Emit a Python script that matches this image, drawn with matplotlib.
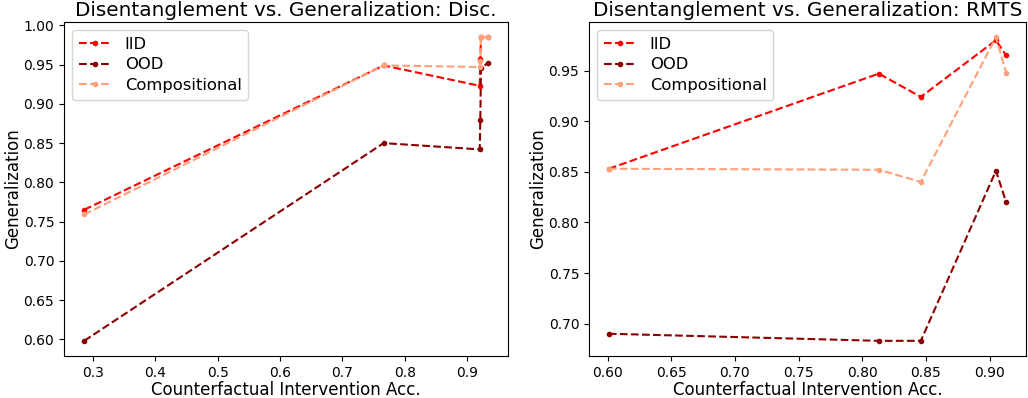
import matplotlib
matplotlib.use("Agg")
import matplotlib.pyplot as plt

# Disc. task
disc_x = [0.286, 0.766, 0.920, 0.921, 0.922, 0.933]
disc_iid = [0.765, 0.949, 0.923, 0.957, 0.985, 0.985]
disc_ood = [0.598, 0.850, 0.842, 0.880, 0.946, 0.952]
disc_comp = [0.759, 0.949, 0.947, 0.955, 0.985, 0.985]

# RMTS task
rmts_x = [0.601, 0.813, 0.846, 0.905, 0.913]
rmts_iid = [0.853, 0.947, 0.924, 0.980, 0.965]
rmts_ood = [0.690, 0.683, 0.683, 0.851, 0.820]
rmts_comp = [0.853, 0.852, 0.840, 0.983, 0.948]

series_labels = ["IID", "OOD", "Compositional"]
colors = ["red", "darkred", "lightsalmon"]

fig = plt.figure(figsize=(10.28, 3.98), dpi=100)
ax1 = fig.add_axes([64 / 1028, 1 - 356 / 398, 444 / 1028, 334 / 398])
ax2 = fig.add_axes([589 / 1028, 1 - 356 / 398, 437 / 1028, 334 / 398])

panels = [
    (ax1, disc_x, [disc_iid, disc_ood, disc_comp], "Disc."),
    (ax2, rmts_x, [rmts_iid, rmts_ood, rmts_comp], "RMTS"),
]

for ax, xs, ys_list, name in panels:
    for ys, label, color in zip(ys_list, series_labels, colors):
        ax.plot(xs, ys, linestyle="--", marker=".", color=color, label=label)
    ax.set_title(f"Disentanglement vs. Generalization: {name}", fontsize=14.4, pad=4)
    ax.set_xlabel("Counterfactual Intervention Acc.", fontsize=12, labelpad=1)
    ax.set_ylabel("Generalization", fontsize=12, labelpad=1)
    ax.legend(loc="upper left", fontsize=11.8, labelspacing=0.35)

plt.savefig("out.png", dpi=100)
